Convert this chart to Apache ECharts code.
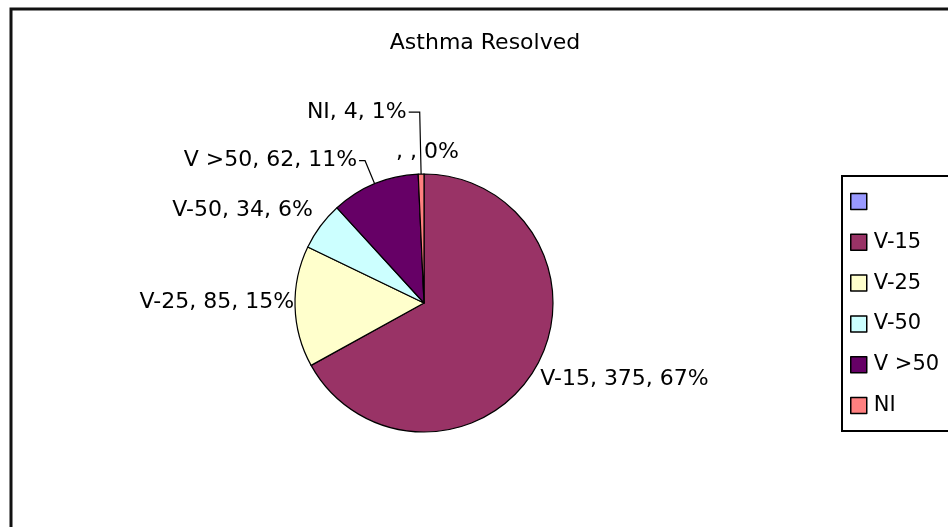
<!DOCTYPE html>
<html>
<head>
<meta charset="utf-8">
<script src="https://cdn.jsdelivr.net/npm/echarts@6/dist/echarts.min.js"></script>
<style>
html,body{margin:0;padding:0;background:#fff;}
#chart{width:948px;height:527px;}
</style>
</head>
<body>
<div id="chart"></div>
<script>
// ---- data ----
const titleText = 'Asthma Resolved';
const categories = [' ', 'V-15', 'V-25', 'V-50', 'V >50', 'NI'];
const counts = [0, 375, 85, 34, 62, 4];
const blankValue = [true, false, false, false, false, false];

// ---- styles (not data) ----
const colors = ['#9999FF', '#993366', '#FFFFCC', '#CCFFFF', '#660066', '#FF8080'];
const lineLen = [22, 21, 1, 27, 25, 62];
const lineLen2 = [0, 0, 0, 0, 6, 11];
const showLine = [false, false, false, false, true, true];
const labelDist = [0, 0, 0, 0, 2, 2];
const nudgeX = [0, -13, 0, 14, 0, 0];
const nudgeY = [0, 0, -4, 0, 0, 0];

const FONT = 'DejaVu Sans';

const seriesData = categories.map((name, i) => ({
  name: name,
  value: counts[i],
  itemStyle: { color: colors[i] },
  label: { distanceToLabelLine: labelDist[i] },
  labelLine: { show: showLine[i], length: lineLen[i], length2: lineLen2[i] }
}));

const chart = echarts.init(document.getElementById('chart'), null, { renderer: 'canvas' });
chart.setOption({
  animation: false,
  backgroundColor: '#fff',
  title: {
    text: titleText,
    left: 480,
    top: 27,
    textAlign: 'center',
    textStyle: { fontFamily: FONT, fontSize: 22, fontWeight: 'normal', color: '#000' }
  },
  legend: {
    orient: 'vertical',
    left: 842,
    top: 176,
    padding: [15, 40, 15, 8],
    itemWidth: 16,
    itemHeight: 16,
    itemGap: 19.8,
    icon: 'rect',
    selectedMode: false,
    borderColor: '#000',
    borderWidth: 2,
    itemStyle: { borderColor: '#000', borderWidth: 1.5 },
    textStyle: { fontFamily: FONT, fontSize: 21, color: '#000', padding: [0, 0, 0, 2] },
    data: categories
  },
  graphic: [{
    type: 'rect',
    shape: { x: 11, y: 9, width: 1200, height: 900 },
    style: { fill: 'none', stroke: '#111', lineWidth: 3 },
    silent: true
  }],
  series: [{
    type: 'pie',
    center: [424, 303],
    radius: 129,
    startAngle: 90,
    clockwise: true,
    avoidLabelOverlap: false,
    minShowLabelAngle: 0,
    percentPrecision: 0,
    itemStyle: { borderColor: '#000', borderWidth: 1.2 },
    emphasis: { disabled: true },
    label: {
      show: true,
      position: 'outside',
      fontFamily: FONT,
      fontSize: 22,
      color: '#000',
      formatter: function (p) {
        const v = blankValue[p.dataIndex] ? '' : p.value;
        return p.name + ', ' + v + ', ' + p.percent + '%';
      }
    },
    labelLine: { lineStyle: { color: '#000', width: 1.2 }, smooth: false },
    labelLayout: function (params) {
      const i = params.dataIndex;
      if (i === 0) {
        const w = params.labelRect.width;
        const dx = params.align === 'right' ? w / 2 : (params.align === 'left' ? -w / 2 : 0);
        return { dx: dx };
      }
      if (nudgeX[i] || nudgeY[i]) {
        return { dx: nudgeX[i], dy: nudgeY[i] };
      }
      return {};
    },
    data: seriesData
  }]
});
</script>
</body>
</html>
